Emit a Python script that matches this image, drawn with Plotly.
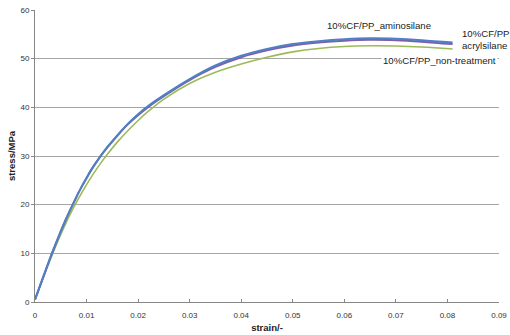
import plotly.graph_objects as go

strain = [0, 0.001, 0.002, 0.003, 0.004, 0.005, 0.006, 0.007, 0.008, 0.009, 0.010, 0.011,
          0.012, 0.013, 0.014, 0.016, 0.018, 0.020, 0.022, 0.025, 0.030, 0.035, 0.040,
          0.045, 0.050, 0.055, 0.060, 0.065, 0.070, 0.075, 0.081]

aminosilane = [0.5, 3.4, 6.3, 9.2, 11.9, 14.5, 17.0, 19.3, 21.5, 23.6, 25.5, 27.3,
               28.9, 30.4, 31.8, 34.3, 36.6, 38.6, 40.3, 42.5, 45.8, 48.6, 50.6,
               52.0, 53.0, 53.6, 54.0, 54.2, 54.1, 53.8, 53.3]

acrylsilane = [0.5, 3.4, 6.3, 9.2, 11.9, 14.5, 17.0, 19.3, 21.5, 23.6, 25.5, 27.3,
               28.9, 30.4, 31.7, 34.2, 36.5, 38.4, 40.1, 42.3, 45.6, 48.3, 50.3,
               51.7, 52.7, 53.3, 53.7, 53.9, 53.8, 53.5, 53.0]

non_treatment = [0.5, 3.3, 6.1, 8.8, 11.4, 13.9, 16.2, 18.4, 20.4, 22.3, 24.1, 25.8,
                 27.4, 28.9, 30.3, 32.9, 35.2, 37.3, 39.2, 41.7, 44.9, 47.2, 48.9,
                 50.3, 51.4, 52.1, 52.5, 52.65, 52.6, 52.4, 52.0]

x_ticks = [0, 0.01, 0.02, 0.03, 0.04, 0.05, 0.06, 0.07, 0.08, 0.09]
x_tick_labels = ["0", "0.01", "0.02", "0.03", "0.04", "0.05", "0.06", "0.07", "0.08", "0.09"]
y_ticks = [0, 10, 20, 30, 40, 50, 60]

fig = go.Figure()
fig.add_trace(go.Scatter(x=strain, y=non_treatment, mode="lines",
                         line=dict(color="#9BBB59", width=1.6, shape="spline"), name="non-treatment"))
fig.add_trace(go.Scatter(x=strain, y=acrylsilane, mode="lines",
                         line=dict(color="#7F5FA6", width=2, shape="spline"), name="acrylsilane"))
fig.add_trace(go.Scatter(x=strain, y=aminosilane, mode="lines",
                         line=dict(color="#4F7FC4", width=2, shape="spline"), name="aminosilane"))

font = "Liberation Sans, Arial, sans-serif"
ann_font = dict(family=font, size=9.6, color="#222")
fig.add_annotation(x=0.0668, y=56.8, xref="x", yref="y", text="10%CF/PP_aminosilane", showarrow=False,
                   font=ann_font)
fig.add_annotation(x=0.0825, y=53.9, xref="x", yref="y", text="10%CF/PP<br>acrylsilane", showarrow=False,
                   xanchor="left", align="left", font=ann_font)
fig.add_annotation(x=0.0672, y=49.6, xref="x", yref="y", text="10%CF/PP_non-treatment", showarrow=False,
                   xanchor="left", bgcolor="white", borderpad=1, font=ann_font)

fig.update_layout(
    width=510, height=335,
    margin=dict(l=35, r=11, t=10, b=33, autoexpand=False),
    paper_bgcolor="white", plot_bgcolor="white",
    showlegend=False,
    font=dict(family=font, size=8, color="#333"),
)
fig.update_xaxes(range=[0, 0.09], tickvals=x_ticks, ticktext=x_tick_labels, showgrid=False,
                 showline=True, linecolor="#868686", linewidth=1, ticks="inside", ticklen=3,
                 tickcolor="#868686", zeroline=False, automargin=False, ticklabelstandoff=5,
                 title=dict(text="<b>strain/-</b>", font=dict(size=9.5, color="#222"), standoff=5))
fig.update_yaxes(range=[0, 60], tickvals=y_ticks, showgrid=True, gridcolor="#a6a6a6", gridwidth=1,
                 showline=True, linecolor="#868686", linewidth=1, ticks="outside", ticklen=3,
                 tickcolor="#868686", zeroline=False, automargin=False,
                 title=dict(text="<b>stress/MPa</b>", font=dict(size=9.5, color="#222"), standoff=3))

fig.write_html("out.html", config={"displayModeBar": False},
               post_script="document.body.style.margin='0';")
